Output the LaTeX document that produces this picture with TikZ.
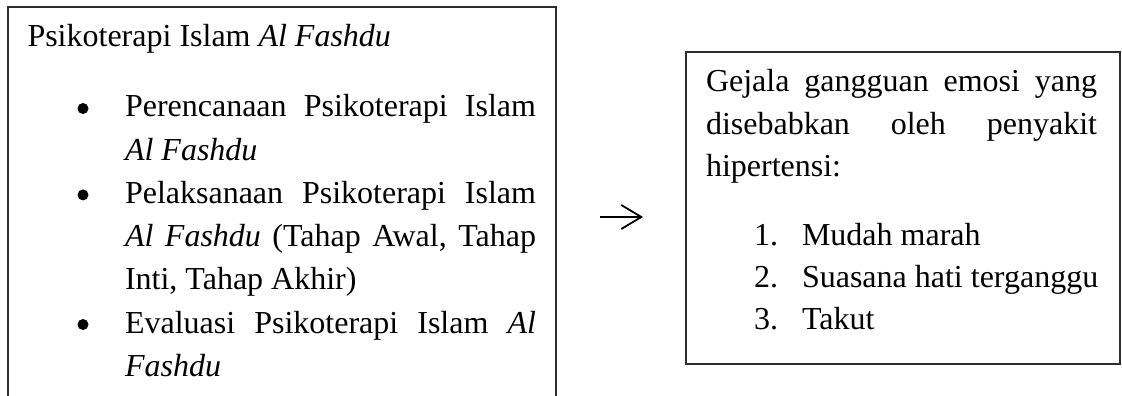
\documentclass[tikz,border=0pt]{standalone}
\usepackage{fontspec}
\setmainfont{Liberation Serif}
\usetikzlibrary{arrows.meta}
\definecolor{boxline}{RGB}{45,45,45}
\begin{document}
\begin{tikzpicture}[x=1pt,y=-1pt,
  txt/.style={inner sep=0pt, outer sep=0pt, anchor=base west, font=\fontsize{32}{43}\selectfont\frenchspacing},
  bul/.style={circle, fill=black, inner sep=0pt, minimum size=11pt},
  frame/.style={draw=boxline, line width=1.5pt},
  arr/.style={line width=1.8pt, -{Straight Barb[length=20pt,width=24pt,line width=1.8pt]}}]
\useasboundingbox[fill=white] (0,0) rectangle (1122,396);
% left box (open at the bottom)
\draw[frame] (8,397) -- (8,7) -- (556,7) -- (556,397);
\node[txt] (title) at (27.5,47) {Psikoterapi Islam \textit{Al Fashdu}};
\node[bul] (bu1) at (83,108.5) {};
\node[txt] (l1) at (125,117) {\hbox to 411pt{Perencanaan Psikoterapi Islam}};
\node[txt] (l2) at (125,160.2) {\textit{Al Fashdu}};
\node[bul] (bu2) at (83,194.9) {};
\node[txt] (l3) at (125,203.4) {\hbox to 411pt{Pelaksanaan Psikoterapi Islam}};
\node[txt] (l4) at (125,246.6) {\hbox to 411pt{\textit{Al Fashdu} (Tahap Awal, Tahap}};
\node[txt] (l5) at (125,289.8) {Inti, Tahap Akhir)};
\node[bul] (bu3) at (83,324.5) {};
\node[txt] (l6) at (125,333) {\hbox to 411pt{Evaluasi Psikoterapi Islam \textit{Al}}};
\node[txt] (l7) at (125,376.2) {\textit{Fashdu}};
% arrow
\coordinate (a1) at (600,217);
\coordinate (a2) at (643,217);
\draw[arr] (a1) -- (a2);
% right box
\draw[frame] (686,52) rectangle (1120,364);
\node[txt] (r1) at (706,92) {\hbox to 391pt{Gejala gangguan emosi yang}};
\node[txt] (r2) at (706,134.5) {\hbox to 391pt{disebabkan oleh penyakit}};
\node[txt] (r3) at (706,176) {hipertensi:};
\node[txt] (n1) at (754,245) {1.};
\node[txt] (i1) at (802,245) {Mudah marah};
\node[txt] (n2) at (754,287) {2.};
\node[txt] (i2) at (802,287) {Suasana hati terganggu};
\node[txt] (n3) at (754,329) {3.};
\node[txt] (i3) at (802,329) {Takut};
\end{tikzpicture}
\end{document}
